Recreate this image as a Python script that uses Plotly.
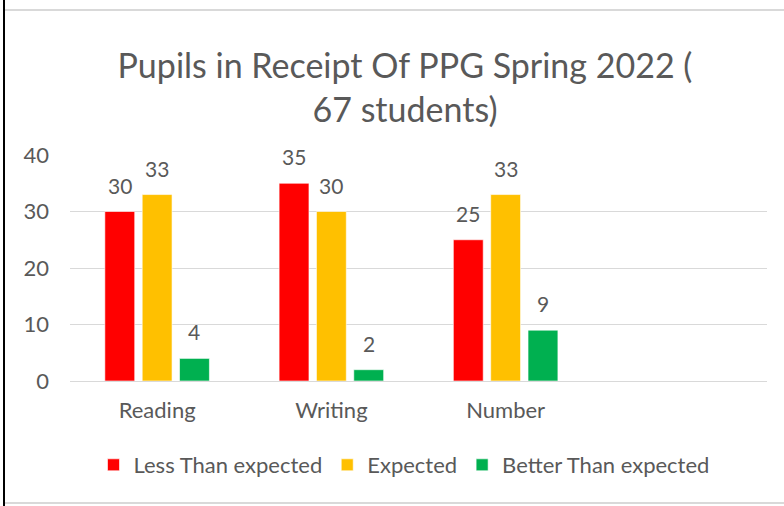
import plotly.graph_objects as go

categories = ["Reading", "Writing", "Number"]
series_names = ["Less Than expected", "Expected", "Better Than expected"]
less_than = [30, 35, 25]
expected = [33, 30, 33]
better_than = [4, 2, 9]
colors = ["#FF0000", "#FFC000", "#00B050"]
y_ticks = [0, 10, 20, 30, 40]

W, H = 784, 506
L, R, T, B = 70, 17, 155, 125
FONT = "Lato"
GREY = "#595959"

fig = go.Figure()
all_vals = [less_than, expected, better_than]
for name, vals, col in zip(series_names, all_vals, colors):
    fig.add_trace(go.Bar(
        x=categories, y=vals, name=name,
        marker=dict(color=col, line=dict(color="rgba(255,255,255,0.6)", width=1)),
    ))

# data labels
plot_w = W - L - R
slot = plot_w / 4
group_w = slot * (1 - 0.357)
offsets = [(i - 1) * group_w / 3 for i in range(3)]
for vals, off in zip(all_vals, offsets):
    for c, v in zip(categories, vals):
        fig.add_annotation(x=c, y=v, text=str(v), showarrow=False,
                           xshift=off, yshift=12, yanchor="bottom",
                           font=dict(family=FONT, size=21, color=GREY))

def px_to_paper_x(px):
    return (px - L) / plot_w

def px_to_paper_y(py):
    return (H - B - py) / (H - T - B)

# decorative frame lines
fig.add_shape(type="line", xref="paper", yref="paper",
              x0=px_to_paper_x(4), x1=px_to_paper_x(4),
              y0=px_to_paper_y(0), y1=px_to_paper_y(506),
              line=dict(color="#000000", width=2))
fig.add_shape(type="line", xref="paper", yref="paper",
              x0=px_to_paper_x(5), x1=px_to_paper_x(784),
              y0=px_to_paper_y(10), y1=px_to_paper_y(10),
              line=dict(color="#D9D9D9", width=2))
fig.add_shape(type="line", xref="paper", yref="paper",
              x0=px_to_paper_x(5), x1=px_to_paper_x(784),
              y0=px_to_paper_y(503), y1=px_to_paper_y(503),
              line=dict(color="#D9D9D9", width=2))

fig.update_layout(
    width=W, height=H,
    margin=dict(l=L, r=R, t=T, b=B, pad=0),
    paper_bgcolor="white", plot_bgcolor="white",
    barmode="group", bargap=0.357, bargroupgap=0.2,
    title=dict(text="Pupils in Receipt Of PPG Spring 2022 (<br>67 students)",
               x=(405 / W), xanchor="center", y=1 - 78 / H, yanchor="middle",
               font=dict(family=FONT, size=34, color=GREY)),
    font=dict(family=FONT, color=GREY),
    xaxis=dict(range=[-0.5, 3.5], showgrid=False, showline=False, zeroline=False,
               ticks="", ticklabelstandoff=14,
               tickfont=dict(family=FONT, size=22, color=GREY)),
    yaxis=dict(range=[0, 40], tickvals=y_ticks, showgrid=True, gridcolor="#D9D9D9",
               gridwidth=1, zeroline=True, zerolinecolor="#D9D9D9", zerolinewidth=1,
               showline=False, ticks="", ticklabelstandoff=20,
               tickfont=dict(family=FONT, size=22, color=GREY)),
    legend=dict(orientation="h", x=px_to_paper_x(404), xanchor="center",
                y=px_to_paper_y(465), yanchor="middle",
                font=dict(family=FONT, size=22, color=GREY),
                itemwidth=30, tracegroupgap=0),
    showlegend=True,
)

fig.write_html("out.html", config={"displayModeBar": False},
               post_script="document.body.style.margin='0';")
